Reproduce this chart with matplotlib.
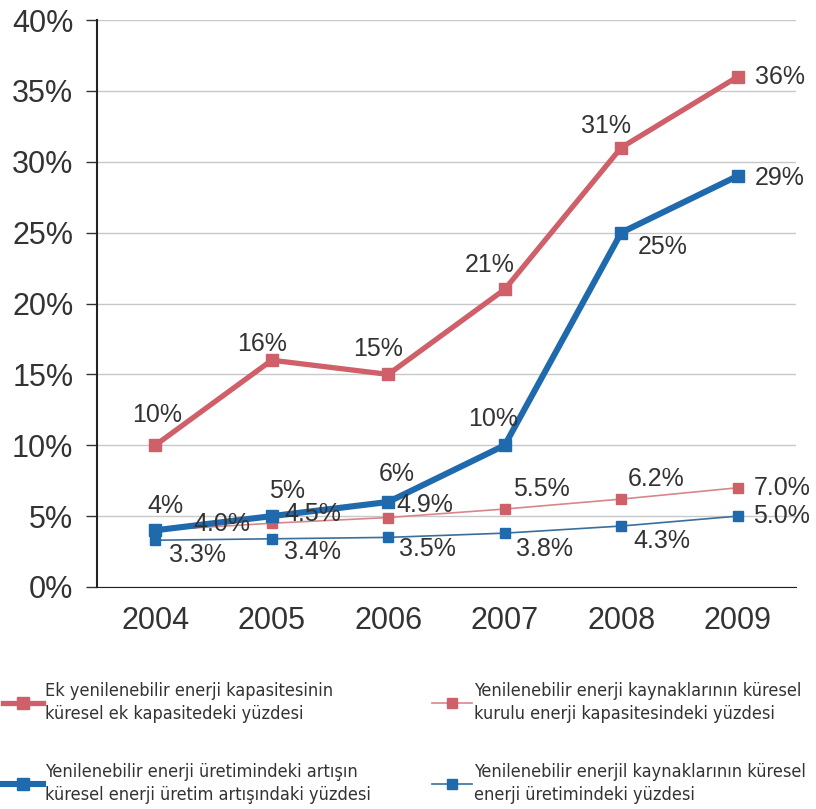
import matplotlib.pyplot as plt

years = ["2004", "2005", "2006", "2007", "2008", "2009"]

# share of added renewable capacity in global added capacity
cap_added = [10, 16, 15, 21, 31, 36]
# share of the growth in renewable generation in global generation growth
gen_growth = [4, 5, 6, 10, 25, 29]
# share of renewables in global installed capacity
cap_installed = [4.0, 4.5, 4.9, 5.5, 6.2, 7.0]
# share of renewables in global generation
gen_share = [3.3, 3.4, 3.5, 3.8, 4.3, 5.0]

cap_added_lbl = ["10%", "16%", "15%", "21%", "31%", "36%"]
gen_growth_lbl = ["4%", "5%", "6%", "10%", "25%", "29%"]
cap_installed_lbl = ["4.0%", "4.5%", "4.9%", "5.5%", "6.2%", "7.0%"]
gen_share_lbl = ["3.3%", "3.4%", "3.5%", "3.8%", "4.3%", "5.0%"]

legend_labels = [
    "Ek yenilenebilir enerji kapasitesinin\nküresel ek kapasitedeki yüzdesi",
    "Yenilenebilir enerji üretimindeki artışın\nküresel enerji üretim artışındaki yüzdesi",
    "Yenilenebilir enerji kaynaklarının küresel\nkurulu enerji kapasitesindeki yüzdesi",
    "Yenilenebilir enerjil kaynaklarının küresel\nenerji üretimindeki yüzdesi",
]

red = "#cf5f68"
blue = "#1f69ad"
txt = "#333333"

plt.rcParams["font.family"] = ["Liberation Sans", "DejaVu Sans"]

fig = plt.figure(figsize=(8.16, 8.09), dpi=100)
ax = fig.add_axes([97 / 816, 1 - 587 / 809, 699 / 816, 567 / 809])

x = range(len(years))
l1, = ax.plot(x, cap_added, color=red, lw=3.8, marker="s", ms=8, zorder=4)
l2, = ax.plot(x, gen_growth, color=blue, lw=4.4, marker="s", ms=8, zorder=5)
l3, = ax.plot(x, cap_installed, color="#d9868a", lw=1.2, marker="s", ms=7,
              mfc="#cc6268", mec="#cc6268", zorder=3)
l4, = ax.plot(x, gen_share, color="#3a6f9c", lw=1.2, marker="s", ms=7,
              mfc=blue, mec=blue, zorder=3)

ax.set_xlim(-0.5, 5.5)
ax.set_ylim(0, 40)
ax.set_yticks(range(0, 41, 5))
ax.set_yticklabels([f"{v}%" for v in range(0, 41, 5)])
ax.set_xticks(list(x))
ax.set_xticklabels(years)
ax.tick_params(axis="y", length=8, width=1, pad=9, labelsize=22, colors=txt)
ax.tick_params(axis="x", length=0, pad=14, labelsize=22, colors=txt)
ax.grid(axis="y", color="#c8c8c8", lw=1)
ax.set_axisbelow(True)
for s in ["top", "right"]:
    ax.spines[s].set_visible(False)
ax.spines["left"].set_color("#222222")
ax.spines["bottom"].set_color("#222222")
ax.spines["left"].set_linewidth(1.5)

# label offsets in pixels from each point
off_added = [(2, 30), (-10, 16), (-10, 25), (-15, 24), (-15, 22), (42, 0)]
off_growth = [(10, 24), (15, 25), (9, 28), (-12, 26), (41, -14), (42, -2)]
off_inst = [(67, 6), (41, 9), (37, 13), (37, 20), (35, 20), (44, 0)]
off_share = [(42, -15), (41, -13), (39, -12), (40, -16), (41, -15), (44, 0)]

def label_points(vals, lbls, offs):
    for i, (v, s, o) in enumerate(zip(vals, lbls, offs)):
        ax.annotate(s, (i, v), xytext=o, textcoords="offset pixels",
                    ha="center", va="center", fontsize=18, color=txt, zorder=6)

label_points(cap_added, cap_added_lbl, off_added)
label_points(gen_growth, gen_growth_lbl, off_growth)
label_points(cap_installed, cap_installed_lbl, off_inst)
label_points(gen_share, gen_share_lbl, off_share)

leg_font = {"family": "DejaVu Sans", "stretch": "condensed", "size": 13}
for handles, labels, xpos in [([l1, l2], legend_labels[:2], 3 / 816),
                              ([l3, l4], legend_labels[2:], 432 / 816)]:
    leg = fig.legend(handles, labels, loc="upper left",
                     bbox_to_anchor=(xpos, 1 - 682 / 809), frameon=False,
                     prop=leg_font, handlelength=2.2, handletextpad=0.15,
                     labelspacing=2.2, borderpad=0, borderaxespad=0)
    for t in leg.get_texts():
        t.set_color(txt)
        t.set_linespacing(1.35)

fig.savefig("out.png", dpi=100)
